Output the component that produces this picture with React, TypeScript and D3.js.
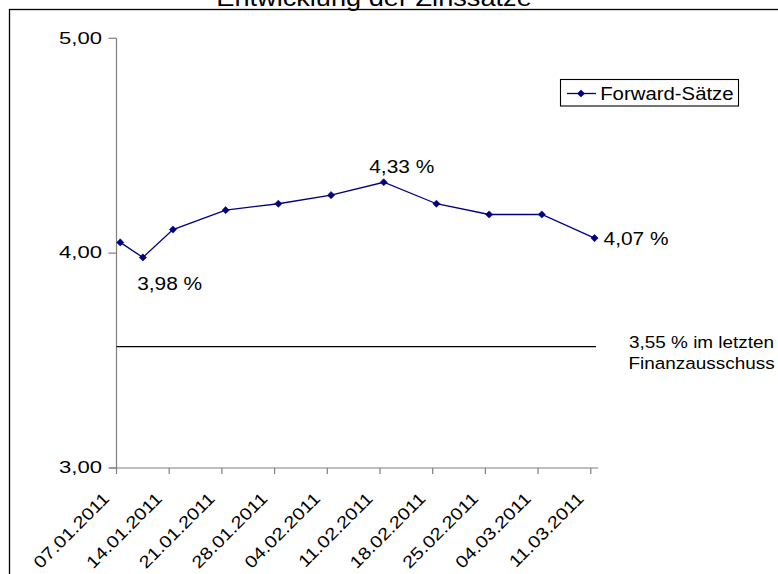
import React from "react";
import * as d3 from "d3";

// ---- data ----
const SERIES_NAME = "Forward-Sätze";
const TITLE = "Entwicklung der Zinssätze";
const DATES = [
  "07.01.2011", "10.01.2011", "14.01.2011", "21.01.2011", "28.01.2011", "04.02.2011",
  "11.02.2011", "18.02.2011", "25.02.2011", "04.03.2011", "11.03.2011",
];
const VALUES = [4.05, 3.98, 4.11, 4.2, 4.23, 4.27, 4.33, 4.23, 4.18, 4.18, 4.07];
const TICK_DATES = [
  "07.01.2011", "14.01.2011", "21.01.2011", "28.01.2011", "04.02.2011",
  "11.02.2011", "18.02.2011", "25.02.2011", "04.03.2011", "11.03.2011",
];
const AXIS_END_DATE = "12.03.2011";
const Y_TICKS = [3, 4, 5];
const Y_DOMAIN = [3, 5];
const REF_VALUE = 3.565;
const REF_LABEL = ["3,55 % im letzten", "Finanzausschuss"];
const LABELED_INDICES = [1, 6, 10];

const FONT = "'Liberation Sans', Arial, Helvetica, sans-serif";
const NAVY = "#000080";

const parse = d3.utcParse("%d.%m.%Y");
const deLocale = d3.formatLocale({ decimal: ",", thousands: ".", grouping: [3], currency: ["", " €"] });
const fmt2 = deLocale.format(".2f");

function T({ x, y, sx = 1.1, size, anchor = "start", rotate = 0, children }: any) {
  return (
    <g transform={`translate(${x},${y}) rotate(${rotate}) scale(${sx},1)`}>
      <text x={0} y={0} fontSize={size} fontFamily={FONT} textAnchor={anchor} fill="#000">
        {children}
      </text>
    </g>
  );
}

function Diamond({ cx, cy, r = 3.6 }: any) {
  return (
    <path
      d={`M${cx},${cy - r}L${cx + r},${cy}L${cx},${cy + r}L${cx - r},${cy}Z`}
      fill={NAVY}
      stroke={NAVY}
      strokeWidth={0.6}
    />
  );
}

export default function App() {
  const W = 778;
  const H = 574;
  const x = d3
    .scaleUtc()
    .domain([parse(TICK_DATES[0])!, parse(AXIS_END_DATE)!])
    .range([116.5, 598.3]);
  const y = d3.scaleLinear().domain(Y_DOMAIN).range([468, 38.3]);

  const pts = DATES.map((d, i) => ({
    x: x(d3.utcHour.offset(parse(d)!, 12)),
    y: y(VALUES[i]),
    v: VALUES[i],
  }));
  const line = d3
    .line<any>()
    .x((p) => p.x)
    .y((p) => p.y);

  const labelOffsets: Record<number, [number, number]> = {
    1: [-5.7, 32.7],
    6: [-14.5, -9.7],
    10: [9, 7.3],
  };

  const axisColor = "#7f7f7f";
  const x0 = x.range()[0];
  const x1 = x.range()[1];
  const yBase = y(Y_DOMAIN[0]);
  const yRef = y(REF_VALUE);

  return (
    <svg
      width={W}
      height={H}
      style={{ position: "absolute", left: 0, top: 0, background: "#fff" }}
    >
      <rect x={0} y={0} width={W} height={H} fill="#fff" />
      {/* chart border */}
      <rect x={9.5} y={9.5} width={W + 20} height={H + 20} fill="none" stroke="#000" strokeWidth={1.3} />
      {/* title (cut off at the top edge, as in the original) */}
      <T x={374} y={5.5} size={24.7} anchor="middle">
        {TITLE}
      </T>

      {/* y axis */}
      <line x1={x0} x2={x0} y1={y(Y_DOMAIN[1])} y2={yBase} stroke={axisColor} strokeWidth={1.2} />
      {Y_TICKS.map((t) => (
        <g key={t}>
          <line x1={x0 - 8} x2={x0} y1={y(t)} y2={y(t)} stroke={axisColor} strokeWidth={1.2} />
          <T x={102} y={y(t) + 5.2} size={17} sx={1.3} anchor="end">
            {fmt2(t)}
          </T>
        </g>
      ))}

      {/* x axis */}
      <line x1={x0 - 7} x2={x1} y1={yBase} y2={yBase} stroke={axisColor} strokeWidth={1.2} />
      {TICK_DATES.map((d) => {
        const tx = x(parse(d)!);
        return (
          <g key={d}>
            <line x1={tx} x2={tx} y1={yBase} y2={yBase + 6} stroke={axisColor} strokeWidth={1.2} />
            <T x={tx - 6} y={499.5} size={17} sx={1.18} anchor="end" rotate={-45}>
              {d}
            </T>
          </g>
        );
      })}

      {/* reference line */}
      <line x1={x0} x2={596} y1={yRef} y2={yRef} stroke="#000" strokeWidth={1.1} />
      <T x={629} y={347.5} size={17.2}>
        {REF_LABEL[0]}
      </T>
      <T x={628.5} y={369} size={17.2}>
        {REF_LABEL[1]}
      </T>

      {/* series */}
      <path d={line(pts) || ""} fill="none" stroke={NAVY} strokeWidth={1.3} />
      {pts.map((p, i) => (
        <Diamond key={i} cx={p.x} cy={p.y} />
      ))}
      {LABELED_INDICES.map((i) => (
        <T key={i} x={pts[i].x + labelOffsets[i][0]} y={pts[i].y + labelOffsets[i][1]} size={19}>
          {`${fmt2(pts[i].v)} %`}
        </T>
      ))}

      {/* legend */}
      <rect x={560.5} y={79.5} width={178} height={26.5} fill="#fff" stroke="#000" strokeWidth={1.1} />
      <line x1={567} x2={596} y1={93.5} y2={93.5} stroke={NAVY} strokeWidth={1.3} />
      <Diamond cx={581} cy={93.5} />
      <T x={600.2} y={100} size={18.5}>
        {SERIES_NAME}
      </T>
    </svg>
  );
}
